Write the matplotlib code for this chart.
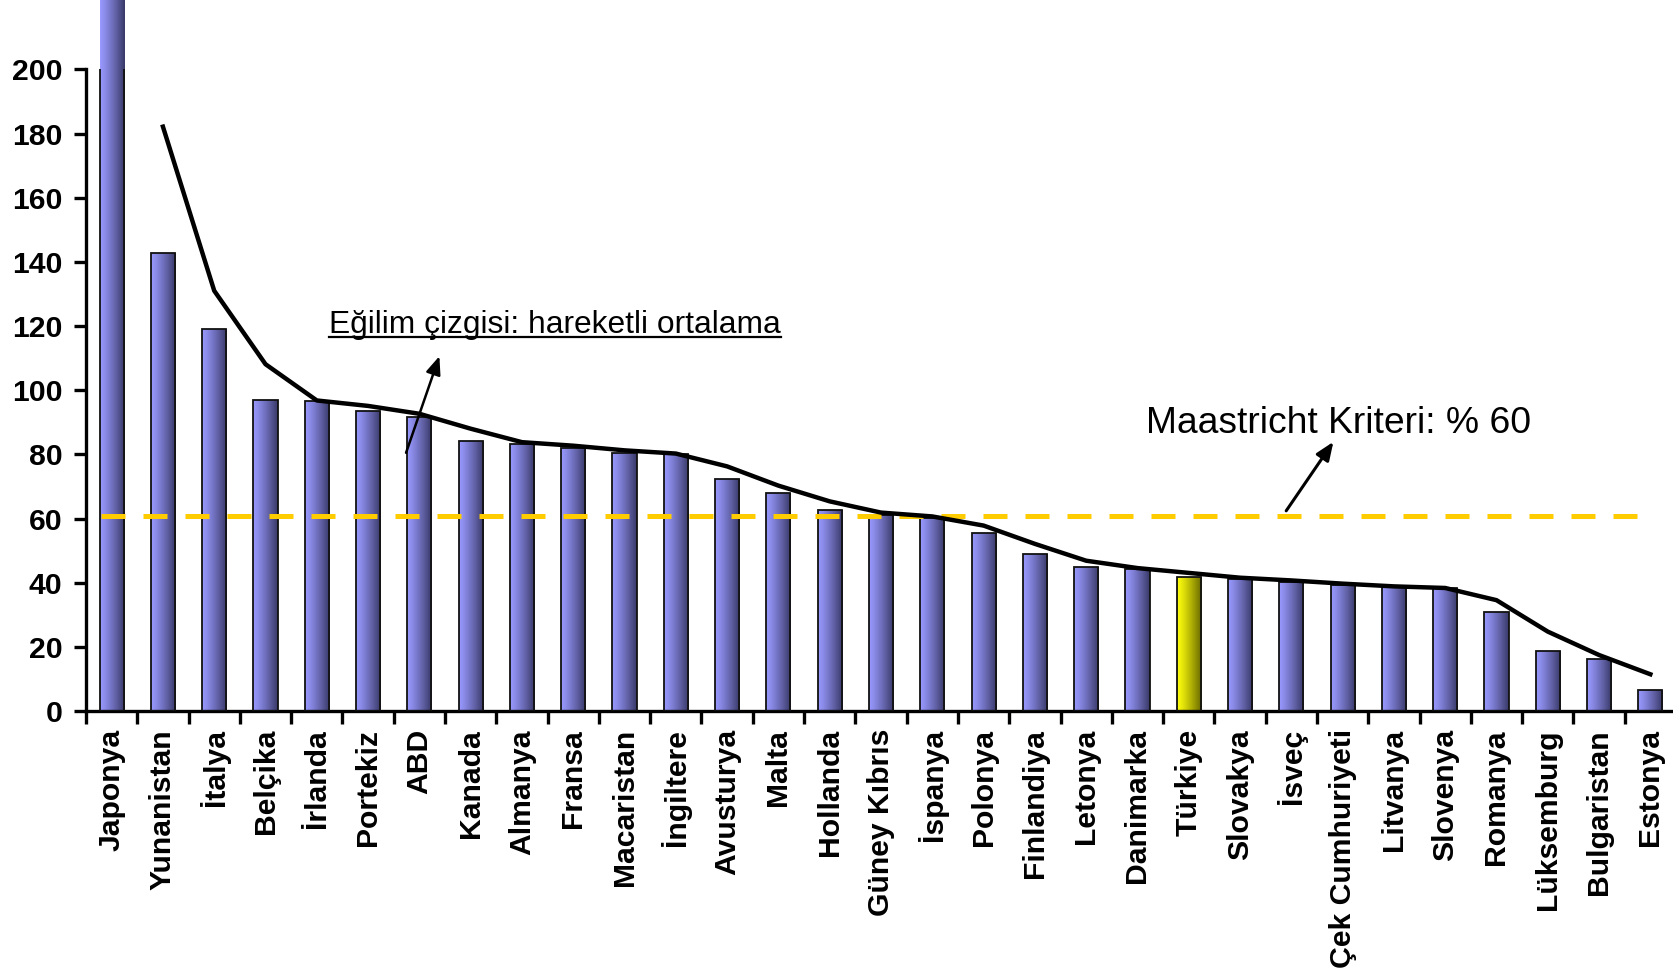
import numpy as np
import pandas as pd
import matplotlib
matplotlib.use("Agg")
import matplotlib.pyplot as plt
from matplotlib.lines import Line2D

plt.rcParams["font.family"] = ["Liberation Sans", "DejaVu Sans"]

# Kamu borcu / GSYH (%) - ülkeler
countries = ["Japonya", "Yunanistan", "İtalya", "Belçika", "İrlanda", "Portekiz", "ABD",
             "Kanada", "Almanya", "Fransa", "Macaristan", "İngiltere", "Avusturya", "Malta",
             "Hollanda", "Güney Kıbrıs", "İspanya", "Polonya", "Finlandiya", "Letonya",
             "Danimarka", "Türkiye", "Slovakya", "İsveç", "Çek Cumhuriyeti", "Litvanya",
             "Slovenya", "Romanya", "Lüksemburg", "Bulgaristan", "Estonya"]
debt = [221.5, 142.8, 119.2, 97.0, 96.6, 93.6, 91.7, 84.3, 83.3, 82.1, 80.4, 80.1, 72.4,
        68.1, 62.6, 61.1, 60.2, 55.4, 48.8, 44.9, 44.2, 41.9, 41.2, 40.2, 39.2, 38.5,
        38.2, 30.9, 18.6, 16.3, 6.6]
highlight = "Türkiye"
maastricht = 60.8
yticks = [0, 20, 40, 60, 80, 100, 120, 140, 160, 180, 200]

x = np.arange(len(countries))
trend = pd.Series(debt).rolling(2).mean()

fig = plt.figure(figsize=(16.73, 9.68), dpi=100)
ax = fig.add_axes([86 / 1673, 257 / 968, (1676 - 86) / 1673, (711 - 69.4) / 968])

# gradyanlı çubuklar (soldan açık, sağa koyu)
t = np.linspace(0, 1, 256)
def gradient(c0, c1):
    c0, c1 = np.array(c0), np.array(c1)
    g = c0[None, :] + (c1 - c0)[None, :] * (t ** 1.2)[:, None]
    return g[None, :, :]

blue = gradient((0.60, 0.60, 1.0), (0.22, 0.22, 0.40))
yellow = gradient((1.0, 1.0, 0.05), (0.40, 0.40, 0.0))

bw = 0.47
bars = ax.bar(x, debt, width=bw, facecolor="none", edgecolor="#111111", linewidth=1.3, zorder=3)
for xi, b, name in zip(x, bars, countries):
    img = yellow if name == highlight else blue
    im = ax.imshow(img, extent=[xi - bw / 2, xi + bw / 2, 0, b.get_height()],
                   aspect="auto", zorder=2, interpolation="bilinear")
    im.set_clip_path(b)

# Maastricht kriteri
ax.plot([-0.2, 29.9], [maastricht, maastricht], color="#FFCC00", lw=3.6,
        dashes=(4.8, 3.6), zorder=5, solid_capstyle="butt", dash_capstyle="butt")

# hareketli ortalama (2 dönem)
ax.plot(x[1:], trend[1:], color="black", lw=3.2, zorder=6, solid_joinstyle="round")

ax.set_xlim(-0.5, len(countries) - 0.5)
ax.set_ylim(0, 200)
ax.set_yticks(yticks)
ax.set_yticklabels([str(v) for v in yticks], fontsize=21.7, fontweight="bold")
ax.set_xticks(x)
ax.set_xticklabels(countries, rotation=90, fontsize=21.7, fontweight="bold", va="top", ha="center")
ax.set_xticks(np.arange(-0.5, len(countries), 1), minor=True)
ax.tick_params(axis="x", which="major", length=0, pad=13)
ax.tick_params(axis="x", which="minor", length=9, width=2.4, direction="out")
ax.tick_params(axis="y", length=9, width=2.4, direction="out", pad=8)
for s in ["top", "right"]:
    ax.spines[s].set_visible(False)
for s in ["left", "bottom"]:
    ax.spines[s].set_linewidth(2.4)

# açıklamalar
txt = ax.text(4.245, 117.7, "Eğilim çizgisi: hareketli ortalama", fontsize=22.9,
              va="baseline", ha="left", zorder=7)
ax.annotate("", xy=(6.39, 110.6), xytext=(5.74, 80.5),
            arrowprops=dict(arrowstyle="-|>,head_length=1.1,head_width=0.45",
                            color="black", lw=1.8, shrinkA=0, shrinkB=0), zorder=7)
ax.text(20.16, 86.7, "Maastricht Kriteri: % 60", fontsize=26.8, va="baseline", ha="left", zorder=7)
ax.annotate("", xy=(23.82, 83.9), xytext=(22.9, 62.4),
            arrowprops=dict(arrowstyle="-|>,head_length=1.1,head_width=0.45",
                            color="black", lw=2.2, shrinkA=0, shrinkB=0), zorder=7)

# alt çizgi
fig.canvas.draw()
bb = txt.get_window_extent().transformed(fig.transFigure.inverted())
uy = (968 - 337.3) / 968
fig.add_artist(Line2D([bb.x0, bb.x1], [uy, uy], color="black", lw=1.6))

fig.savefig("out.png", dpi=100)
